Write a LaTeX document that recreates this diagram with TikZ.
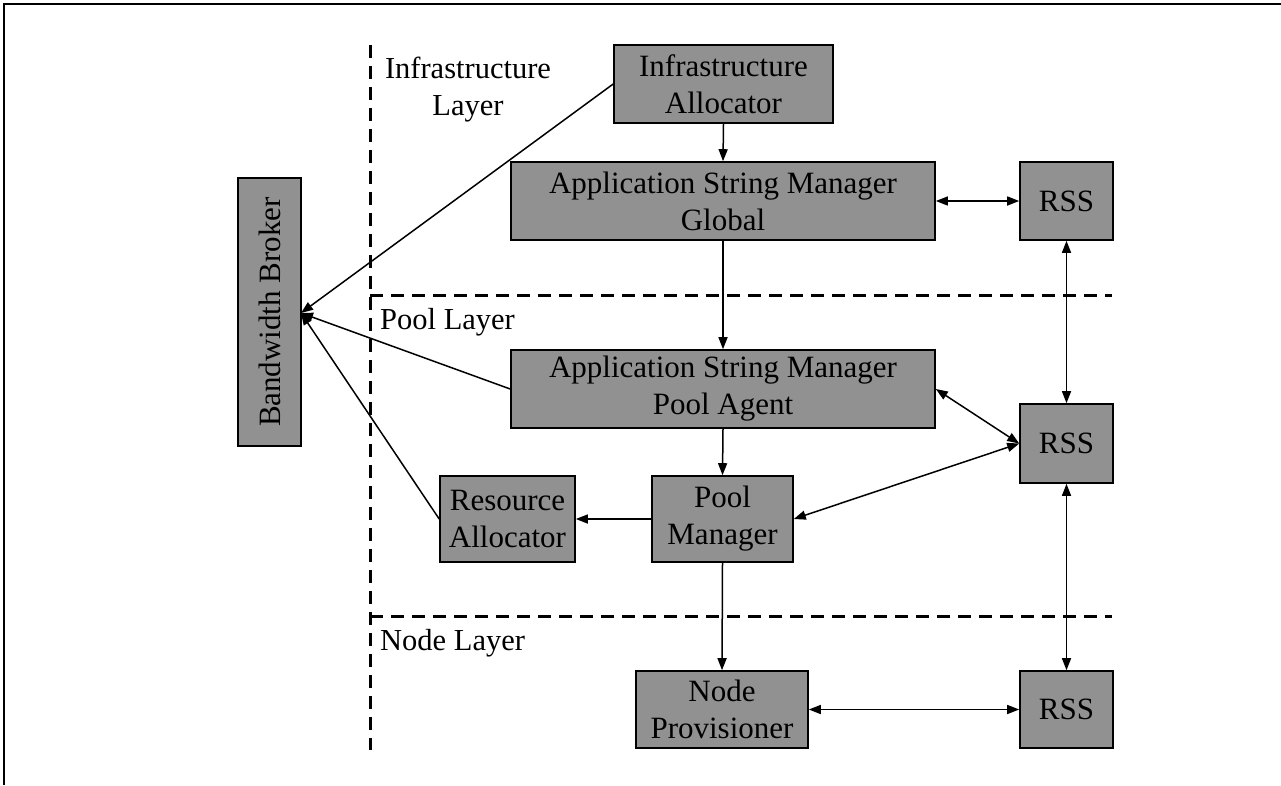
\documentclass[tikz,border=0pt]{standalone}
\usepackage{fontspec}
\setmainfont{Liberation Serif}
\usetikzlibrary{arrows.meta}
\begin{document}
\begin{tikzpicture}[x=1pt,y=-1pt,
  box/.style={draw=black,line width=1.6pt,fill=black!43,inner sep=0pt,align=center,
    font=\fontsize{31}{37}\selectfont},
  lbl/.style={inner sep=0pt,align=center,font=\fontsize{30.5}{37}\selectfont},
  layerline/.style={line width=3pt,dash pattern=on 13pt off 8pt},
  arr/.style={line width=1.5pt,-{Triangle[length=12pt,width=9pt]}},
  darr/.style={line width=1.5pt,{Triangle[length=12pt,width=9pt]}-{Triangle[length=12pt,width=9pt]}}]
\useasboundingbox (0,0) rectangle (1281,785);
% frame
\draw[line width=2pt] (4,785) -- (4,4) -- (1281,4);
% layer separators
\draw[layerline] (370,45) -- (370,750);
\draw[layerline] (370,295) -- (1112,295);
\draw[layerline] (370,616) -- (1112,616);
% layer labels
\node[lbl] (linfra) at (468,90) {Infrastructure\\Layer};
\node[lbl,anchor=west] (lpool) at (380,322) {Pool Layer};
\node[lbl,anchor=west] (lnode) at (380,643) {Node Layer};
% boxes
\node[box,minimum width=219pt,minimum height=78pt] (ia) at (723.5,84) {Infrastructure\\Allocator};
\node[box,minimum width=424pt,minimum height=78pt] (asmg) at (723,201) {Application String Manager\\Global};
\node[box,minimum width=93pt,minimum height=78pt] (rss1) at (1066.5,201) {RSS};
\node[box,minimum width=424pt,minimum height=78pt] (asmp) at (723,389) {Application String Manager\\Pool Agent};
\node[box,minimum width=93pt,minimum height=79pt] (rss2) at (1066.5,443.5) {RSS};
\node[box,minimum width=141pt,minimum height=86pt] (pm) at (722.5,519) {Pool\\Manager};
\node[box,minimum width=135pt,minimum height=86pt] (ra) at (507.5,519) {Resource\\Allocator};
\node[box,minimum width=172pt,minimum height=77pt] (np) at (722,709.5) {Node\\Provisioner};
\node[box,minimum width=93pt,minimum height=77pt] (rss3) at (1066.5,709.5) {RSS};
\node[box,rotate=90,minimum width=268pt,minimum height=63pt] (bb) at (269.5,312) {Bandwidth Broker};
\coordinate (bbp) at (301,313);
% connectors
\draw[arr] (ia.south) -- (asmg.north);
\draw[arr] (asmg.south) -- (asmp.north);
\draw[darr] (asmg.east) -- (rss1.west);
\draw[darr] (rss1.south) -- (rss2.north);
\draw[darr] (rss2.south) -- (rss3.north);
\draw[darr] (asmp.east) -- (rss2.west);
\draw[darr] (pm.east) -- (rss2.west);
\draw[arr] (asmp.south) -- (pm.north);
\draw[arr] (pm.west) -- (ra.east);
\draw[arr] (pm.south) -- (np.north);
\draw[darr] (np.east) -- (rss3.west);
\draw[arr] (ia.west) -- (bbp);
\draw[arr] (asmp.west) -- (bbp);
\draw[arr] (ra.west) -- (bbp);
\end{tikzpicture}
\end{document}
